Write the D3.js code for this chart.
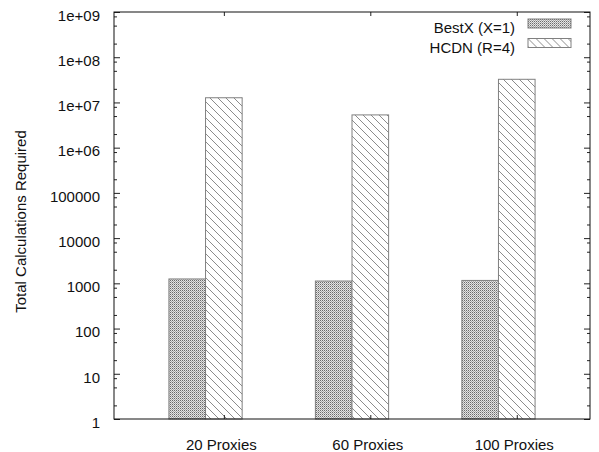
<!DOCTYPE html>
<html>
<head>
<meta charset="utf-8">
<script src="https://cdn.jsdelivr.net/npm/d3@7"></script>
<style>
body { margin: 0; background: #fff; }
svg { display: block; }
text { font-family: "Liberation Sans", Arial, sans-serif; font-size: 15px; fill: #111; }
</style>
</head>
<body>
<svg id="chart"></svg>
<script>
var screen = {width: 599, height: 452}
var margins = {top: 12, right: 9, bottom: 33, left: 114}

// data
var categories = ["20 Proxies", "60 Proxies", "100 Proxies"]
var seriesNames = ["BestX (X=1)", "HCDN (R=4)"]
var bestX = [1250, 1125, 1160]
var hcdn = [12700000, 5300000, 32500000]
var majorTicks = [1, 10, 100, 1000, 10000, 100000, 1e6, 1e7, 1e8, 1e9]
var majorLabels = ["1", "10", "100", "1000", "10000", "100000", "1e+06", "1e+07", "1e+08", "1e+09"]
var minorMult = [2, 5, 8]

var svg = d3.select("#chart")
    .attr("width", screen.width)
    .attr("height", screen.height)

var x0 = margins.left, x1 = screen.width - margins.right
var y0 = screen.height - margins.bottom, y1 = margins.top

var xScale = d3.scaleLinear().domain([-0.75, 2.5]).range([x0, x1])
var yScale = d3.scaleLog().domain([1, 1e9]).range([y0, y1])

// patterns
var defs = svg.append("defs")
var checker = defs.append("pattern").attr("id", "checker")
    .attr("patternUnits", "userSpaceOnUse").attr("width", 4).attr("height", 4)
checker.append("rect").attr("width", 4).attr("height", 4).attr("fill", "#e4e4e4")
;[[0,0],[2,0],[1,1],[3,1],[0,2],[2,2],[1,3],[3,3]].forEach(function(p, i){
    checker.append("rect").attr("x", p[0]).attr("y", p[1]).attr("width", 1).attr("height", 1)
        .attr("fill", (p[1] % 2 == 0) ? "#6a6a6a" : "#a8a8a8")
})

var hatch = defs.append("pattern").attr("id", "hatch")
    .attr("patternUnits", "userSpaceOnUse").attr("width", 8).attr("height", 8)
hatch.append("rect").attr("width", 8).attr("height", 8).attr("fill", "#fff")
hatch.append("path").attr("d", "M-1,-1 L9,9 M-1,7 L1,9 M7,-1 L9,1")
    .attr("stroke", "#8c8c8c").attr("stroke-width", 1)

var minorVals = []
majorTicks.slice(0, -1).forEach(function(t){
    minorMult.forEach(function(m){ minorVals.push(t * m) })
})

// bars
var series = [
    {name: seriesNames[0], values: bestX, fill: "url(#checker)", off: -0.375},
    {name: seriesNames[1], values: hcdn, fill: "url(#hatch)", off: -0.125}
]
var barW = 0.25

series.forEach(function(s){
    svg.append("g").selectAll("rect")
        .data(s.values)
        .enter()
        .append("rect")
        .attr("x", function(d, i){ return xScale(i + s.off) })
        .attr("width", function(d, i){ return xScale(i + s.off + barW) - xScale(i + s.off) })
        .attr("y", function(d){ return yScale(d) })
        .attr("height", function(d){ return y0 - yScale(d) })
        .attr("fill", s.fill)
        .attr("stroke", "#808080")
        .attr("stroke-width", 1)
})

// axes
var yAxis = d3.axisLeft(yScale).tickValues(majorTicks)
    .tickFormat(function(d, i){ return majorLabels[i] })
    .tickSizeInner(-6).tickSizeOuter(0).tickPadding(14)
var gy = svg.append("g").attr("transform", "translate(" + x0 + ",0)").call(yAxis)
gy.selectAll("text").attr("dy", "0.55em").style("font-size", "15px")

svg.append("g").attr("transform", "translate(" + x0 + ",0)")
    .call(d3.axisLeft(yScale).tickValues(minorVals).tickFormat("").tickSizeInner(-3).tickSizeOuter(0))
svg.append("g").attr("transform", "translate(" + x1 + ",0)")
    .call(d3.axisRight(yScale).tickValues(majorTicks).tickFormat("").tickSizeInner(-6).tickSizeOuter(0))
svg.append("g").attr("transform", "translate(" + x1 + ",0)")
    .call(d3.axisRight(yScale).tickValues(minorVals).tickFormat("").tickSizeInner(-3).tickSizeOuter(0))

var xAxis = d3.axisBottom(xScale).tickValues([0, 1, 2])
    .tickFormat(function(d){ return categories[d] })
    .tickSizeInner(-4).tickSizeOuter(0).tickPadding(20)
var gx = svg.append("g").attr("transform", "translate(0," + y0 + ")").call(xAxis)
gx.selectAll("text").attr("dx", "-3px").style("font-size", "15px")
svg.append("g").attr("transform", "translate(0," + y1 + ")")
    .call(d3.axisTop(xScale).tickValues([0, 1, 2]).tickFormat("").tickSizeInner(-4).tickSizeOuter(0))

svg.selectAll(".domain").remove()
svg.selectAll(".tick line").attr("stroke", "#222")

// frame
svg.append("rect")
    .attr("x", x0).attr("y", y1)
    .attr("width", x1 - x0).attr("height", y0 - y1)
    .attr("fill", "none").attr("stroke", "#111").attr("stroke-width", 1)

// y title
svg.append("text")
    .attr("transform", "translate(26," + ((y0 + y1) / 2 + 6) + ") rotate(-90)")
    .attr("text-anchor", "middle")
    .text("Total Calculations Required")

// legend
var legend = svg.append("g").selectAll("g")
    .data(series)
    .enter()
    .append("g")
    .attr("transform", function(d, i){ return "translate(0," + (19 + i * 19.5) + ")" })
legend.append("text")
    .attr("x", 515).attr("y", 14)
    .attr("text-anchor", "end")
    .text(function(d){ return d.name })
legend.append("rect")
    .attr("x", 528).attr("y", 0)
    .attr("width", 43).attr("height", 9)
    .attr("fill", function(d){ return d.fill })
    .attr("stroke", "#808080")
</script>
</body>
</html>
